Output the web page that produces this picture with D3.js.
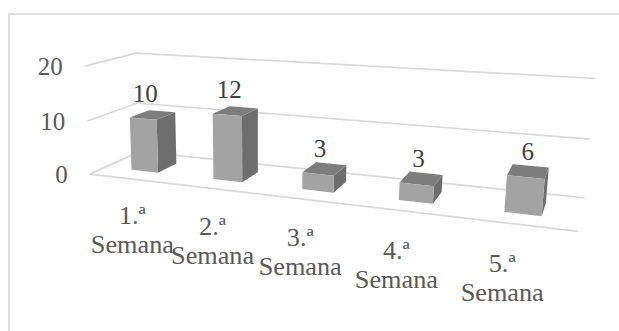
<!DOCTYPE html>
<html><head><meta charset="utf-8">
<script src="https://cdn.jsdelivr.net/npm/d3@7"></script>
<style>
body{margin:0;background:#fff}
svg{display:block}
text{font-family:"Liberation Serif","Times New Roman",serif}
</style>
</head><body>
<svg id="c" width="619" height="331" font-family="Liberation Serif, Times New Roman, serif"></svg>
<script>
// ---- data ----
const categories = ["1.ª Semana", "2.ª Semana", "3.ª Semana", "4.ª Semana", "5.ª Semana"];
const values = [10, 12, 3, 3, 6];
const yTicks = [0, 10, 20];
const yDomain = [0, 20];

// ---- perspective calibration (world box -> screen), fitted below ----
// world: x across floor [0,1], y height [0,1], z depth [0 front,1 back]
const anchors = [
  [0, 0, 0, 93, 173], [0, 0.5, 0, 87, 121], [0, 1, 0, 82, 66],
  [0, 0, 1, 136, 153], [0, 0.5, 1, 138, 103], [0, 1, 1, 139, 53],
  [1, 0, 1, 585, 196], [1, 0.5, 1, 590, 139], [1, 1, 1, 595, 79],
  [1, 0, 0, 578, 233]
];

function fitProjection(pts) {
  const A = [], b = [];
  for (const [X, Y, Z, u, v] of pts) {
    A.push([X, Y, Z, 1, 0, 0, 0, 0, -u * X, -u * Y, -u * Z]); b.push(u);
    A.push([0, 0, 0, 0, X, Y, Z, 1, -v * X, -v * Y, -v * Z]); b.push(v);
  }
  const n = 11;
  const M = Array.from({length: n}, () => new Array(n + 1).fill(0));
  for (let r = 0; r < A.length; r++) {
    for (let i = 0; i < n; i++) {
      for (let j = 0; j < n; j++) M[i][j] += A[r][i] * A[r][j];
      M[i][n] += A[r][i] * b[r];
    }
  }
  for (let c = 0; c < n; c++) {
    let piv = c;
    for (let r = c + 1; r < n; r++) if (Math.abs(M[r][c]) > Math.abs(M[piv][c])) piv = r;
    [M[c], M[piv]] = [M[piv], M[c]];
    for (let r = 0; r < n; r++) {
      if (r === c) continue;
      const f = M[r][c] / M[c][c];
      for (let k = c; k <= n; k++) M[r][k] -= f * M[c][k];
    }
  }
  return M.map((row, i) => row[n] / row[i]);
}
const P = fitProjection(anchors);
function proj(X, Y, Z) {
  const w = P[8] * X + P[9] * Y + P[10] * Z + 1;
  return [(P[0] * X + P[1] * Y + P[2] * Z + P[3]) / w, (P[4] * X + P[5] * Y + P[6] * Z + P[7]) / w];
}

// ---- scales ----
const x = d3.scaleBand().domain(categories).range([0, 1]).paddingInner(0.667).paddingOuter(0.3335);
const y = d3.scaleLinear().domain(yDomain).range([0, 1]);
const z0 = 0.3, z1 = 0.7;

const svg = d3.select("#c");
const line = d3.line();

// outer border
svg.append("rect").attr("x", 9).attr("y", 14).attr("width", 700).attr("height", 400)
  .attr("fill", "none").attr("stroke", "#d9d9d9").attr("stroke-width", 1.6);

// gridlines: left wall + back wall
const grid = svg.append("g").attr("fill", "none").attr("stroke", "#d9d9d9").attr("stroke-width", 1.7);
yTicks.forEach(t => {
  const h = y(t);
  grid.append("path").attr("d", line([proj(0, h, 0), proj(0, h, 1), proj(1, h, 1)]));
});
// floor front edge (category axis)
grid.append("path").attr("d", line([proj(0, 0, 0), proj(1, 0, 0)]));

// y axis labels
svg.append("g").selectAll("text").data(yTicks).join("text")
  .attr("x", d => proj(0, y(d), 0)[0] - 22)
  .attr("y", d => proj(0, y(d), 0)[1] + 9)
  .attr("text-anchor", "end").attr("font-size", 25).attr("fill", "#595959")
  .text(d => d);

// bars
const defs = svg.append("defs");
defs.append("filter").attr("id", "soft").append("feGaussianBlur").attr("stdDeviation", 0.5);
const bars = svg.append("g").attr("filter", "url(#soft)");
categories.forEach((c, i) => {
  const x0 = x(c), x1 = x(c) + x.bandwidth(), h = y(values[i]);
  const g = bars.append("g");
  const poly = pts => line(pts.map(p => proj(...p))) + "Z";
  g.append("path").attr("d", poly([[x1, 0, z0], [x1, 0, z1], [x1, h, z1], [x1, h, z0]])).attr("fill", "#6e6e6e");
  g.append("path").attr("d", poly([[x0, h, z0], [x1, h, z0], [x1, h, z1], [x0, h, z1]])).attr("fill", "#7d7d7d");
  g.append("path").attr("d", poly([[x0, 0, z0], [x1, 0, z0], [x1, h, z0], [x0, h, z0]])).attr("fill", "#a3a3a3");
});

// value labels
svg.append("g").selectAll("text").data(categories).join("text")
  .attr("x", (c, i) => proj(x(c) + x.bandwidth() / 2, y(values[i]), z0)[0] + 2)
  .attr("y", (c, i) => proj(x(c) + x.bandwidth() / 2, y(values[i]), z0)[1] - 17)
  .attr("text-anchor", "middle").attr("font-size", 25).attr("fill", "#404040")
  .text((c, i) => values[i]);

// category labels
const cat = svg.append("g").selectAll("text").data(categories).join("text")
  .attr("text-anchor", "middle").attr("font-size", 25).attr("fill", "#595959")
  .attr("transform", c => {
    const xc = x(c) + x.bandwidth() / 2;
    const p = proj(xc, 0, 0);
    return `translate(${p[0] + 5 - 24 * xc},${p[1] + 45 + 3 * xc}) scale(1.05,1)`;
  });
cat.each(function(c) {
  const parts = c.split(" ");
  const t = d3.select(this);
  parts.forEach((s, k) => t.append("tspan").attr("x", 0).attr("y", k * 29).text(s));
});
</script>
</body></html>
